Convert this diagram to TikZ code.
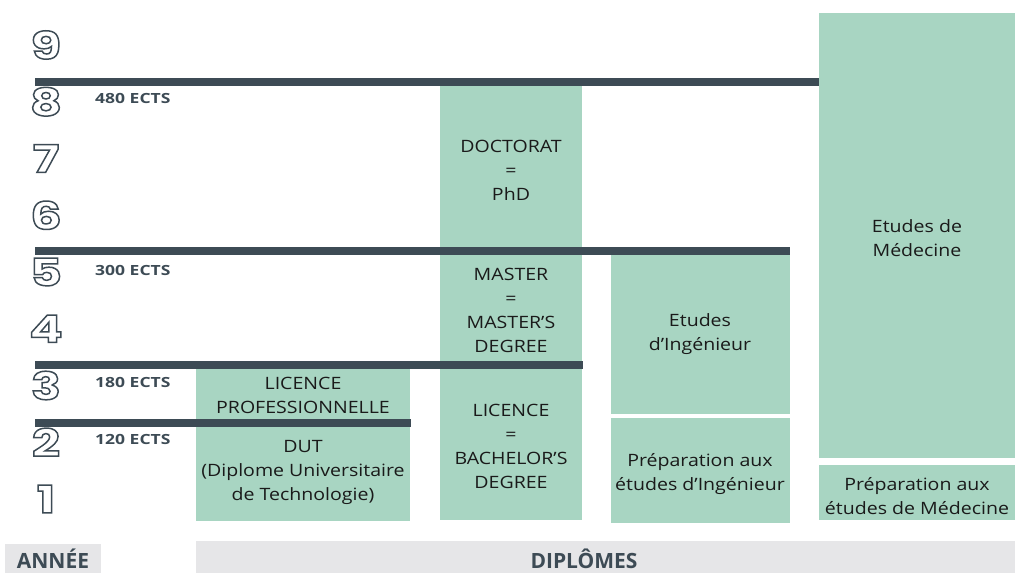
\documentclass[tikz,border=0pt]{standalone}
\usepackage{fontspec}
\setmainfont{Open Sans}[FakeStretch=1.15]
\newfontfamily\ectsfont{Open Sans}[FakeStretch=1.25]
\newfontfamily\etiqfont{Open Sans}
\newfontfamily\chiffrefont{Poppins}[FakeStretch=1.3]
\usepackage{tikz}

\definecolor{vert}{HTML}{A8D5C2}
\definecolor{ardoise}{HTML}{3D4B55}
\definecolor{gris}{HTML}{E6E6E8}
\definecolor{encre}{HTML}{1A1A1A}
% chiffre creux (contour seulement)
\newcommand{\creux}[1]{\special{pdf:literal direct 1 Tr 1.5 w}#1\special{pdf:literal direct 0 Tr}}

\begin{document}
\begin{tikzpicture}[x=1pt,y=-1pt]
              \tikzstyle{every node}+=[inner sep=0pt]
              \tikzstyle{bloc}=[fill=vert]
              \tikzstyle{barre}=[fill=ardoise]
              \tikzstyle{txt}=[align=center, text=encre, font=\fontsize{17}{24}\selectfont]
              \tikzstyle{ects}=[anchor=west, text=ardoise, font=\ectsfont\bfseries\fontsize{14}{16}\selectfont]
              \tikzstyle{etiq}=[anchor=base, text=ardoise, font=\etiqfont\bfseries\fontsize{21}{24}\selectfont]
              \tikzstyle{chiffre}=[text=ardoise, font=\chiffrefont\bfseries\fontsize{38}{38}\selectfont]
              \useasboundingbox (0,0) rectangle (1015,573);
              % blocs
              \fill [bloc] (196,369) rectangle (410,419);
              \node [txt] (licpro) at (303,395) {LICENCE\\PROFESSIONNELLE};
              \fill [bloc] (196,427) rectangle (410,521);
              \node [txt] (dut) at (303,472) {DUT\\(Diplome Universitaire\\de Technologie)};
              \fill [bloc] (440,86) rectangle (582,247);
              \node [txt] (doctorat) at (511,170) {DOCTORAT\\=\\PhD};
              \fill [bloc] (440,255) rectangle (582,361);
              \node [txt] (master) at (511,310) {MASTER\\=\\MASTER’S\\DEGREE};
              \fill [bloc] (440,369) rectangle (582,520);
              \node [txt] (licence) at (511,446) {LICENCE\\=\\BACHELOR’S\\DEGREE};
              \fill [bloc] (611,255) rectangle (790,414);
              \node [txt] (inge) at (700,334) {Etudes\\d’Ingénieur};
              \fill [bloc] (611,418) rectangle (790,523);
              \node [txt] (prepainge) at (700,474) {Préparation aux\\études d’Ingénieur};
              \fill [bloc] (819,13) rectangle (1015,458);
              \node [txt] (medecine) at (917,238) {Etudes de\\Médecine};
              \fill [bloc] (819,465) rectangle (1015,520);
              \node [txt] (prepamed) at (917,496) {Préparation aux\\études de Médecine};
              % barres
              \fill [barre] (35,78) rectangle (819,86);
              \fill [barre] (35,247) rectangle (790,255);
              \fill [barre] (35,361) rectangle (583,369);
              \fill [barre] (35,419) rectangle (411,427);
              \node [ects] (e480) at (95,98) {480 ECTS};
              \node [ects] (e300) at (95,270) {300 ECTS};
              \node [ects] (e180) at (95,382) {180 ECTS};
              \node [ects] (e120) at (95,439) {120 ECTS};
              % annees
              \foreach \n in {1,...,9}
                \node [chiffre] (an\n) at (46,{499-56.75*(\n-1)}) {\creux{\n}};
              % bas
              \fill [gris] (5,544) rectangle (101,573);
              \fill [gris] (196,541) rectangle (1015,573);
              \node [etiq] (annee) at (53,568) {ANNÉE};
              \node [etiq] (diplomes) at (584,568) {DIPLÔMES};
            \end{tikzpicture}
\end{document}
